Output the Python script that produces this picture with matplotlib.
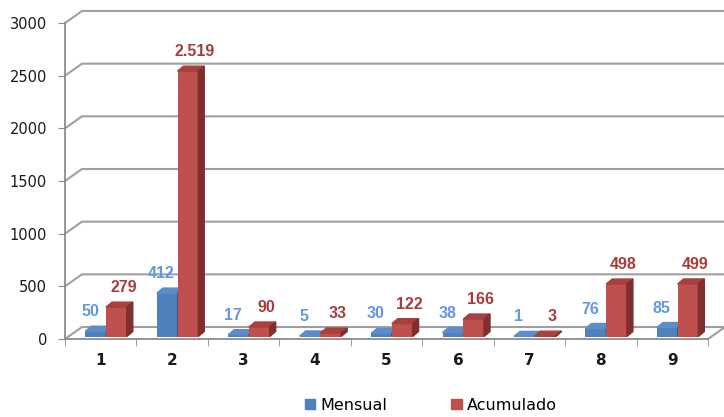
import matplotlib.pyplot as plt
from matplotlib.patches import Polygon, Patch

categories = ['1', '2', '3', '4', '5', '6', '7', '8', '9']
mensual = [50, 412, 17, 5, 30, 38, 1, 76, 85]
acumulado = [279, 2519, 90, 33, 122, 166, 3, 498, 499]
yticks = [0, 500, 1000, 1500, 2000, 2500, 3000]

blue = '#4f81bd'
blue_side = '#385d8a'
blue_top = '#5b8dca'
red = '#c0504d'
red_side = '#7f2f2d'
red_top = '#a8403d'
grid_col = '#a0a0a0'

fig = plt.figure(figsize=(7.24, 4.17), dpi=100)
ax = fig.add_axes([65 / 724, 78 / 417, 643 / 724, 316 / 417])
ax.set_xlim(0.5, 9.5)
ax.set_ylim(0, 3000)

# pixel -> data helpers (for the fake 3d depth)
ppx = 643 / 9
ppy = 316 / 3000
fdx, fdy = 17 / ppx, 12 / ppy     # floor / wall depth
bdx, bdy = 6 / ppx, 5 / ppy       # bar depth
base = 2.5 / ppy
w = 0.29
shift = 0.075

# back wall grid
for v in yticks:
    ax.plot([0.5, 0.5 + fdx, 9.5 + fdx], [v, v + fdy, v + fdy],
            color=grid_col, lw=1.5, clip_on=False, zorder=0)
ax.plot([9.5, 9.5 + fdx], [0, fdy], color=grid_col, lw=1.5, clip_on=False, zorder=0)

x = range(1, len(categories) + 1)


def bar3d(xs, vals, left, face, side, top, col_txt, dxl):
    bars = ax.bar([i + left for i in xs], vals, width=w, bottom=base,
                  align='edge', color=face, zorder=3)
    for i, v in zip(xs, vals):
        x0 = i + left
        x1 = x0 + w
        t = base + v
        ax.add_patch(Polygon([(x0, t), (x1, t), (x1 + bdx, t + bdy), (x0 + bdx, t + bdy)],
                             closed=True, color=top, zorder=3, clip_on=False))
        ax.add_patch(Polygon([(x1, base), (x1, t), (x1 + bdx, t + bdy), (x1 + bdx, base + bdy)],
                             closed=True, color=side, zorder=3, clip_on=False))
        ax.annotate(f'{v:,}'.replace(',', '.'), (x0 + w / 2, t + bdy),
                    xytext=(dxl, 5), textcoords='offset points', ha='center', va='bottom',
                    color=col_txt, fontsize=11.5, fontweight='bold',
                    family='Liberation Sans', zorder=5, annotation_clip=False)
    return bars


b1 = bar3d(x, mensual, -w + shift, blue, blue_side, blue_top, '#6497e2', -4)
b2 = bar3d(x, acumulado, shift, red, red_side, red_top, '#a83c3a', 5)

for s in ['top', 'right']:
    ax.spines[s].set_visible(False)
for s in ['left', 'bottom']:
    ax.spines[s].set_color('#8c8c8c')
    ax.spines[s].set_linewidth(1.3)

ax.set_yticks(yticks)
ax.set_yticklabels([str(v) for v in yticks], fontsize=10.5, color='#1a1a1a')
ax.tick_params(axis='y', length=5, color='#8c8c8c', pad=8)
ax.set_xticks(list(x))
ax.set_xticklabels(categories, fontsize=11, fontweight='bold', color='#1a1a1a')
ax.set_xticks([i + 0.5 for i in range(0, 10)], minor=True)
ax.tick_params(axis='x', which='major', length=0, pad=10)
ax.tick_params(axis='x', which='minor', length=5, color='#8c8c8c')
ax.patch.set_visible(False)

fig.legend(handles=[Patch(color=blue, label='Mensual'), Patch(color=red, label='Acumulado')],
           loc='center', bbox_to_anchor=(431 / 724, 12 / 417), ncol=2, frameon=False,
           fontsize=11.5, handlelength=0.65, handleheight=0.65, handletextpad=0.35,
           columnspacing=4.0)

fig.savefig('out.png', dpi=100)
